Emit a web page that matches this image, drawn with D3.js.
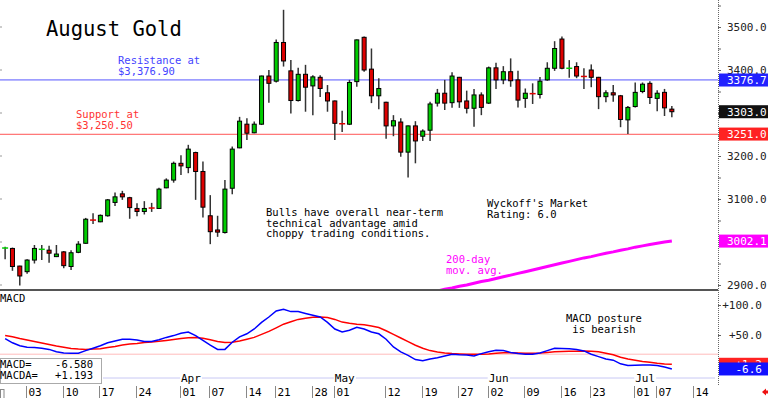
<!DOCTYPE html>
<html>
<head>
<meta charset="utf-8">
<script src="https://cdn.jsdelivr.net/npm/d3@7/dist/d3.min.js"></script>
<style>
  body { margin: 0; background: #fff; }
  svg text { font-family: "DejaVu Sans Mono", "Liberation Mono", monospace; }
</style>
</head>
<body>
<svg id="chart" width="768" height="398"></svg>
<script>
// daily candles, Feb 26 .. Jul 09 : [open, high, low, close]
var ohlc = [
  [2985,2989,2960,2986],[2985,2987,2933,2943],[2944,2945,2899,2921],[2931,2960,2926,2958],
  [2958,2993,2950,2985],[2982,2993,2958,2983],[2981,2991,2952,2974],[2966,2993,2965,2972],
  [2977,2979,2939,2945],[2943,2981,2935,2975],[2976,3002,2974,2995],[2997,3056,2996,3053],
  [3052,3067,3042,3051],[3047,3064,3046,3062],[3061,3100,3059,3098],[3092,3115,3084,3105],
  [3112,3119,3098,3105],[3103,3105,3054,3080],[3078,3090,3060,3071],[3071,3095,3064,3078],
  [3080,3091,3070,3079],[3078,3126,3077,3123],[3126,3148,3125,3144],[3144,3187,3138,3183],
  [3183,3202,3156,3177],[3173,3226,3160,3216],[3208,3210,3098,3164],[3164,3187,3057,3081],
  [3061,3109,2995,3024],[3028,3061,3012,3023],[3022,3144,3020,3123],[3125,3222,3111,3216],
  [3219,3291,3218,3281],[3274,3288,3237,3253],[3254,3280,3253,3274],[3274,3387,3272,3386],
  [3386,3400,3324,3369],[3374,3471,3371,3464],[3464,3540,3408,3421],[3398,3423,3299,3329],
  [3329,3405,3327,3390],[3390,3412,3303,3360],[3363,3388,3295,3384],[3383,3388,3337,3357],
  [3347,3365,3303,3328],[3328,3329,3237,3276],[3277,3305,3256,3275],[3274,3377,3272,3371],
  [3373,3471,3361,3470],[3476,3478,3396,3400],[3402,3450,3323,3340],[3340,3381,3309,3357],
  [3325,3326,3240,3270],[3270,3295,3246,3282],[3279,3288,3198,3209],[3209,3271,3150,3270],
  [3270,3281,3183,3235],[3246,3262,3235,3258],[3260,3326,3235,3321],[3323,3356,3315,3346],
  [3346,3377,3307,3323],[3324,3395,3312,3386],[3383,3384,3312,3326],[3328,3352,3299,3311],
  [3311,3356,3268,3342],[3342,3348,3295,3313],[3323,3408,3321,3405],[3405,3417,3356,3377],
  [3377,3409,3367,3396],[3396,3427,3361,3375],[3377,3398,3313,3330],[3334,3357,3312,3346],
  [3347,3369,3321,3345],[3343,3384,3334,3374],[3377,3418,3375,3404],[3404,3467,3398,3450],
  [3472,3478,3402,3404],[3403,3423,3382,3404],[3408,3418,3381,3386],[3387,3404,3356,3385],
  [3400,3413,3360,3383],[3383,3384,3309,3338],[3338,3353,3325,3347],[3347,3365,3326,3342],
  [3340,3342,3267,3285],[3284,3316,3251,3313],[3315,3371,3313,3348],[3350,3371,3346,3367],
  [3369,3374,3321,3336],[3334,3353,3304,3346],[3348,3356,3293,3312],[3309,3316,3290,3303]
];

// 200-day moving average, from candle index 58 on
var ma200Start = 58;
var ma200 = [2882,2886,2890,2893,2897,2900,2904,2908,2911,2915,2919,2923,2927,2931,2935,
             2939,2943,2947,2951,2955,2959,2963,2966,2970,2974,2977,2981,2984,2988,2991,
             2994,2997,3000,3002.1];

var macd = [44,37,32,29.5,29,28,26,22,20,19.5,19.5,24,28,32,37,40,43,43,41.5,39,39,42,46,49,
            53,55,49,41,33,26,26,38,47,52,60,71,80,90,93,89,89,86,83,80,71,60,55,58,63,60,
            55,52,43,30,22,16,9,7,10,12,15,18,17,16.5,15,19,22,24.5,24,21,19,18,18,20,24,28,
            27.5,27,26,23.5,18,14,10,8,2,-1,-0.5,0,0,-1,-3.5,-6.6];
var signal = [49,47,44,41.5,39,36.5,34,31.5,29.5,27.5,26.5,26,26.5,27,29,31,33.5,35,36,37.5,
              38.5,39.5,41,42.5,44,45.5,46,44.5,42,39,37.5,38,40,43,46,51,56,62,68,72,76,78,
              79.5,80,79,76,71.5,69.5,68,67,65,62.5,57,51,45,39,33,28,24,21.5,20,19,18.5,18,
              17.8,17.8,18.5,19.5,20.5,20.5,20,19.5,19.5,20,21,22,22.5,23,23,23.3,23,22,19.5,
              17,13,10,8,6,4.5,3,1.8,1.2];
var macdReadout = -6.580, macdaReadout = 1.193;

var tickLabels = ["03","10","17","24","01","07","14","21","28","01","12","19","27","02","09","16","23","01","07","14"];
var tickIndex  = [3,8,13,18,24,28,33,37,42,45,52,57,62,66,71,76,80,86,89,94];
var monthLabels = ["Apr","May","Jun","Jul"];
var monthIndex  = [24,45,66,86];

var priceTicks = [2900,2950,3000,3050,3100,3150,3200,3250,3300,3350,3400,3450,3500,3550];
var macdTicks = [50,100];

var resistance = 3376.9, support = 3250.5;

var svg = d3.select("#chart");
var W = 768, axisX = 718;

var x = d3.scaleLinear().domain([-0.7, 97.3]).range([0, axisX]);
var y = d3.scaleLinear().domain([2900, 3500]).range([285, 27]);
var my = d3.scaleLinear().domain([0, 100]).range([365, 305]);

svg.append("rect").attr("width", W).attr("height", 398).attr("fill", "#fff");

svg.append("defs").append("clipPath").attr("id", "pclip")
  .append("rect").attr("x", 0).attr("y", 0).attr("width", axisX).attr("height", 289);

// title
svg.append("text").attr("x", 46).attr("y", 36).attr("font-size", 20.5).attr("fill", "#000")
  .text("August Gold");

// left edge tick marks
svg.selectAll(".lt").data(priceTicks.filter(function(d) { return d % 100 === 0; }))
  .enter().append("line")
  .attr("x1", 0).attr("x2", 2)
  .attr("y1", function(d) { return y(d); }).attr("y2", function(d) { return y(d); })
  .attr("stroke", "#999");

// support / resistance
svg.append("line").attr("x1", 0).attr("x2", axisX)
  .attr("y1", y(resistance)).attr("y2", y(resistance))
  .attr("stroke", "#5555ff").attr("stroke-width", 1);
svg.append("line").attr("x1", 0).attr("x2", axisX)
  .attr("y1", y(support)).attr("y2", y(support))
  .attr("stroke", "#ff5555").attr("stroke-width", 1);

function note(lines, x0, y0, color) {
  lines.forEach(function(t, i) {
    svg.append("text").attr("x", x0).attr("y", y0 + i * 10.5)
      .attr("font-size", 10.5).attr("fill", color).attr("xml:space", "preserve").text(t);
  });
}
note(["Resistance at", "$3,376.90"], 118, 64, "#4444ff");
note(["Support at", "$3,250.50"], 76, 118, "#ff3333");
note(["Bulls have overall near-term", "technical advantage amid", "choppy trading conditions."], 266, 216, "#000");
note(["Wyckoff's Market", "Rating: 6.0"], 487, 207, "#000");
note(["200-day", "mov. avg."], 446, 263, "#ff00ff");

// 200-day MA
var maLine = d3.line()
  .x(function(d, i) { return x(ma200Start + i); })
  .y(function(d) { return y(d); });
svg.append("path").datum(ma200).attr("d", maLine)
  .attr("clip-path", "url(#pclip)")
  .attr("fill", "none").attr("stroke", "#ff00ff").attr("stroke-width", 3);

// candles
var up = "#00cc00", dn = "#dd0000";
var g = svg.append("g").attr("clip-path", "url(#pclip)");
var c = g.selectAll(".candle").data(ohlc).enter().append("g").attr("class", "candle");
c.append("line")
  .attr("x1", function(d, i) { return x(i); }).attr("x2", function(d, i) { return x(i); })
  .attr("y1", function(d) { return y(d[1]); }).attr("y2", function(d) { return y(d[2]); })
  .attr("stroke", "#333").attr("stroke-width", 1.5);
c.each(function(d, i) {
  var el = d3.select(this), cx = x(i);
  var col = d[3] >= d[0] ? up : dn;
  if (Math.abs(d[3] - d[0]) < 2.5) {
    el.append("line").attr("x1", cx - 3).attr("x2", cx + 3)
      .attr("y1", y(d[3])).attr("y2", y(d[3]))
      .attr("stroke", col).attr("stroke-width", 1.5);
  } else {
    var top = y(Math.max(d[0], d[3])), bot = y(Math.min(d[0], d[3]));
    el.append("rect").attr("x", cx - 2).attr("width", 4)
      .attr("y", top).attr("height", bot - top)
      .attr("fill", col).attr("stroke", "#000").attr("stroke-width", 1);
  }
});

// panel separator
svg.append("line").attr("x1", 0).attr("x2", axisX).attr("y1", 290).attr("y2", 290)
  .attr("stroke", "#555").attr("stroke-width", 2);

// right price axis
var pax = svg.append("g").attr("transform", "translate(" + axisX + ",0)")
  .call(d3.axisRight(y).tickValues(priceTicks).tickSize(3).tickPadding(6)
    .tickFormat(function(d) { return d % 100 === 0 ? d.toFixed(1) : ""; }));
pax.select(".domain").remove();
pax.selectAll("line").attr("stroke", "#666");
pax.selectAll("text").attr("font-family", "DejaVu Sans Mono").attr("font-size", 11).attr("fill", "#222");

svg.append("line").attr("x1", axisX + 0.5).attr("x2", axisX + 0.5).attr("y1", 0).attr("y2", 385)
  .attr("stroke", "#666").attr("stroke-dasharray", "1,1");

function valueBox(yy, label, fill, anchorEnd) {
  svg.append("rect").attr("x", axisX + 1).attr("y", yy - 6.5).attr("width", W - axisX).attr("height", 13)
    .attr("fill", fill);
  svg.append("text").attr("x", anchorEnd ? 762 : 727).attr("y", yy + 4)
    .attr("text-anchor", anchorEnd ? "end" : "start")
    .attr("font-size", 11).attr("fill", "#fff").text(label);
}
valueBox(y(3376.7), "3376.7", "#2222ff");
valueBox(y(ohlc[ohlc.length - 1][3]), "3303.0", "#111");
valueBox(y(3251.0), "3251.0", "#ff2222");
valueBox(y(ma200[ma200.length - 1]), "3002.1", "#ff00ff");

// MACD panel
svg.append("text").attr("x", 0).attr("y", 302).attr("font-size", 10.5).text("MACD");
svg.append("line").attr("x1", 0).attr("x2", axisX).attr("y1", my(18)).attr("y2", my(18))
  .attr("stroke", "#ffbbbb");

var mLine = d3.line().x(function(d, i) { return x(i); }).y(function(d) { return my(d); });
svg.append("path").datum(signal).attr("d", mLine).attr("fill", "none")
  .attr("stroke", "#ff0000").attr("stroke-width", 1.5);
svg.append("path").datum(macd).attr("d", mLine).attr("fill", "none")
  .attr("stroke", "#0000ff").attr("stroke-width", 1.5);

note(["MACD posture", " is bearish"], 566, 322, "#000");

var max = svg.append("g").attr("transform", "translate(" + axisX + ",0)")
  .call(d3.axisRight(my).tickValues(macdTicks).tickSize(3)
    .tickFormat(function(d) { return "+" + d.toFixed(1); }));
max.select(".domain").remove();
max.selectAll("line").attr("stroke", "#666");
max.selectAll("text").attr("x", 44).attr("text-anchor", "end")
  .attr("font-family", "DejaVu Sans Mono").attr("font-size", 11).attr("fill", "#222");

valueBox(my(signal[signal.length - 1]), "+1.2", "#ff2222", true);
valueBox(my(macd[macd.length - 1]), "-6.6", "#1111ff", true);

// readout box
svg.append("rect").attr("x", 0.5).attr("y", 358.5).attr("width", 101).attr("height", 25)
  .attr("fill", "#fff").attr("stroke", "#aaa");
svg.append("text").attr("x", 0).attr("y", 368).attr("font-size", 10.5).text("MACD=");
svg.append("text").attr("x", 0).attr("y", 379).attr("font-size", 10.5).text("MACDA=");
svg.append("text").attr("x", 93).attr("y", 368).attr("font-size", 10.5).attr("text-anchor", "end")
  .text(macdReadout.toFixed(3));
svg.append("text").attr("x", 93).attr("y", 379).attr("font-size", 10.5).attr("text-anchor", "end")
  .text(d3.format("+.3f")(macdaReadout));

// month strip
svg.append("line").attr("x1", 103).attr("x2", 715).attr("y1", 378).attr("y2", 378)
  .attr("stroke", "#c8c8f4");
monthLabels.forEach(function(m, i) {
  var mx = x(monthIndex[i]);
  svg.append("rect").attr("x", mx - 1).attr("y", 372).attr("width", 22).attr("height", 10).attr("fill", "#fff");
  svg.append("text").attr("x", mx).attr("y", 382).attr("font-size", 11).text(m);
});

// date ticks
tickIndex.forEach(function(t, i) {
  var tx = Math.round(x(t)) - 0.5;
  svg.append("line").attr("x1", tx).attr("x2", tx).attr("y1", 386).attr("y2", 398).attr("stroke", "#888");
  svg.append("text").attr("x", tx + 2).attr("y", 396).attr("font-size", 11).text(tickLabels[i]);
});
svg.append("rect").attr("x", 0.5).attr("y", 389.5).attr("width", 3.5).attr("height", 9)
  .attr("fill", "none").attr("stroke", "#888");

// scroll arrow
svg.append("path").attr("d", "M762,392 L766,388.5 L766,390.5 L768,390.5 L768,393.5 L766,393.5 L766,395.5 Z")
  .attr("fill", "#ee1111");
</script>
</body>
</html>
